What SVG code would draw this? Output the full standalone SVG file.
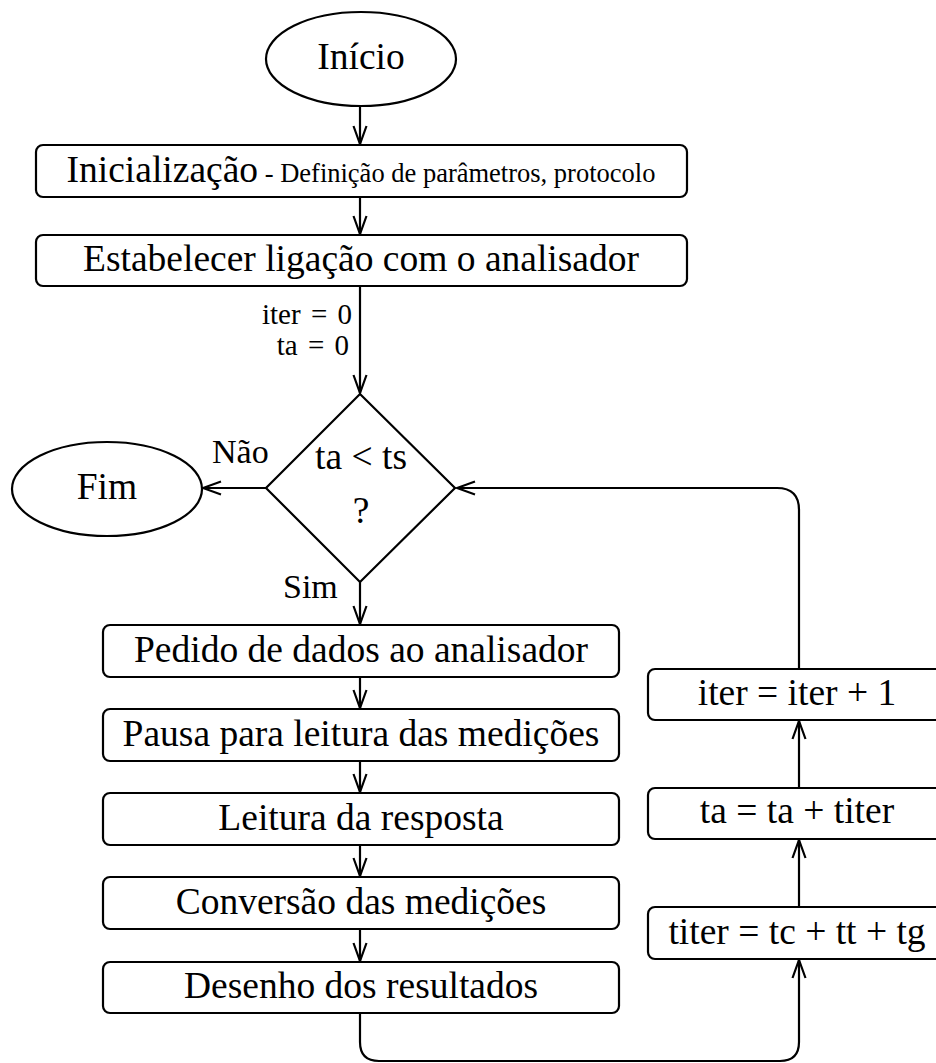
<svg xmlns="http://www.w3.org/2000/svg" width="936" height="1063" viewBox="0 0 936 1063">
<style>
.s{fill:#fff;stroke:#000;stroke-width:2.2}
.t{font-family:"Liberation Serif","Times New Roman",serif;font-size:37.5px;fill:#000;text-anchor:middle}
.l{font-family:"Liberation Serif","Times New Roman",serif;font-size:34px;fill:#000}
.v{font-family:"Liberation Serif","Times New Roman",serif;font-size:29px;fill:#000;text-anchor:end;word-spacing:3px}
.c{fill:none;stroke:#000;stroke-width:2.2}
</style>
<defs>
<marker id="a" markerUnits="userSpaceOnUse" markerWidth="24" markerHeight="16" viewBox="-20 -8 22 16" refX="0" refY="0" orient="auto">
<path d="M-18,-6.5 L0,0 L-18,6.5" fill="none" stroke="#000" stroke-width="2.2"/>
</marker>
</defs>
<rect width="936" height="1063" fill="#fff"/>
<g id="connectors">
<path class="c" d="M360,106 V144" marker-end="url(#a)"/>
<path class="c" d="M360,197 V234" marker-end="url(#a)"/>
<path class="c" d="M360,286 V393" marker-end="url(#a)"/>
<path class="c" d="M266,488 H203" marker-end="url(#a)"/>
<path class="c" d="M360,582 V624" marker-end="url(#a)"/>
<path class="c" d="M360,677 V708" marker-end="url(#a)"/>
<path class="c" d="M360,761 V792" marker-end="url(#a)"/>
<path class="c" d="M360,845 V876" marker-end="url(#a)"/>
<path class="c" d="M360,929 V961" marker-end="url(#a)"/>
<path class="c" d="M360,1013 V1042 Q360,1061 379,1061 H780 Q799,1061 799,1042 V960" marker-end="url(#a)"/>
<path class="c" d="M799,907 V840" marker-end="url(#a)"/>
<path class="c" d="M799,788 V721" marker-end="url(#a)"/>
<path class="c" d="M799,669 V510 Q799,488 777,488 H457" marker-end="url(#a)"/>
<text class="v" x="352" y="324">iter = 0</text>
<text class="v" x="349" y="355">ta = 0</text>
<text class="l" x="212" y="463">Não</text>
<text class="l" x="283" y="598">Sim</text>
</g>
<g id="inicio">
<ellipse class="s" cx="361" cy="59" rx="95" ry="47"/>
<text class="t" x="361" y="69">Início</text>
</g>
<g id="inicializacao">
<rect class="s" x="36" y="145" width="651" height="52" rx="7"/>
<text class="t" x="361" y="182"><tspan>Inicialização</tspan><tspan font-size="26.5"> - Definição de parâmetros, protocolo</tspan></text>
</g>
<g id="ligacao">
<rect class="s" x="36" y="235" width="651" height="51" rx="7"/>
<text class="t" x="361" y="271">Estabelecer ligação com o analisador</text>
</g>
<g id="decisao">
<polygon class="s" points="360,394 455,488 360,582 266,488"/>
<text class="t" x="361" y="469">ta &lt; ts</text>
<text class="t" x="361" y="523">?</text>
</g>
<g id="fim">
<ellipse class="s" cx="107" cy="489" rx="95" ry="47"/>
<text class="t" x="107" y="499">Fim</text>
</g>
<g id="pedido">
<rect class="s" x="103" y="625" width="516" height="52" rx="7"/>
<text class="t" x="361" y="662">Pedido de dados ao analisador</text>
</g>
<g id="pausa">
<rect class="s" x="103" y="709" width="516" height="52" rx="7"/>
<text class="t" x="361" y="746">Pausa para leitura das medições</text>
</g>
<g id="leitura">
<rect class="s" x="103" y="793" width="516" height="52" rx="7"/>
<text class="t" x="361" y="830">Leitura da resposta</text>
</g>
<g id="conversao">
<rect class="s" x="103" y="877" width="516" height="52" rx="7"/>
<text class="t" x="361" y="914">Conversão das medições</text>
</g>
<g id="desenho">
<rect class="s" x="103" y="962" width="516" height="51" rx="7"/>
<text class="t" x="361" y="998">Desenho dos resultados</text>
</g>
<g id="iter">
<rect class="s" x="648" y="669" width="300" height="51" rx="7"/>
<text class="t" x="797" y="705">iter = iter + 1</text>
</g>
<g id="ta">
<rect class="s" x="648" y="788" width="300" height="51" rx="7"/>
<text class="t" x="797" y="823">ta = ta + titer</text>
</g>
<g id="titer">
<rect class="s" x="648" y="907" width="300" height="52" rx="7"/>
<text class="t" x="797" y="944">titer = tc + tt + tg</text>
</g>
</svg>
